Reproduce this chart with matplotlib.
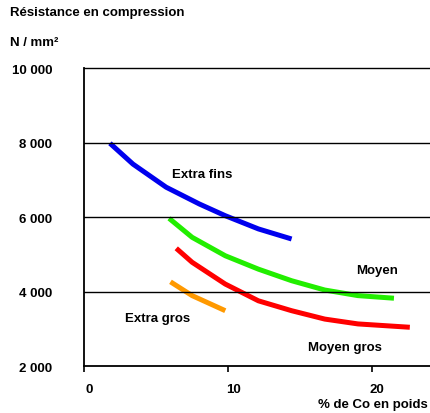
import matplotlib
matplotlib.use("Agg")
import matplotlib.pyplot as plt
import matplotlib.transforms as mtransforms
from matplotlib.ticker import FuncFormatter

plt.rcParams['font.family'] = ['Liberation Sans', 'DejaVu Sans']
plt.rcParams['font.weight'] = 'bold'

# data
fins_x = [1.8, 3.4, 5.7, 8.0, 9.8, 12.1, 14.4]
fins_y = [7980, 7420, 6800, 6350, 6035, 5680, 5410]
moyen_x = [5.9, 7.5, 9.8, 12.1, 14.4, 16.7, 19.0, 21.5]
moyen_y = [5965, 5455, 4960, 4600, 4290, 4040, 3890, 3820]
mgros_x = [6.4, 7.5, 9.8, 12.1, 14.4, 16.7, 19.0, 22.6]
mgros_y = [5160, 4785, 4200, 3750, 3485, 3260, 3130, 3040]
xgros_x = [6.0, 7.5, 9.8]
xgros_y = [4260, 3890, 3485]

series = [
    (fins_x, fins_y, "#0000EE", "Extra fins", 8.2, 7150),
    (moyen_x, moyen_y, "#22EE00", "Moyen", 20.3, 4590),
    (mgros_x, mgros_y, "#FF0000", "Moyen gros", 18.1, 2500),
    (xgros_x, xgros_y, "#FF9900", "Extra gros", 5.1, 3280),
]

fig = plt.figure(figsize=(4.3, 4.14), dpi=100)
ax = fig.add_axes([0.1953, 0.1135, 0.8047, 0.7198])

for xs, ys, col, name, lx, ly in series:
    ax.plot(xs, ys, color=col, lw=3.6, solid_capstyle='butt', solid_joinstyle='round')
    ax.text(lx, ly, name, ha='center', va='center', fontsize=9.5, fontweight='bold')

ax.set_xlim(0, 24)
ax.set_ylim(2000, 10000)
ax.set_yticks([2000, 4000, 6000, 8000, 10000])
ax.set_xticks([0, 10, 20])
ax.yaxis.set_major_formatter(FuncFormatter(lambda v, p: f"{int(v):,}".replace(",", " ")))

for yv in [4000, 6000, 8000]:
    ax.axhline(yv, color='black', lw=1.0)

ax.spines['right'].set_visible(False)
ax.spines['top'].set_linewidth(1.0)
ax.spines['left'].set_linewidth(1.3)
ax.spines['bottom'].set_linewidth(1.3)

ax.tick_params(axis='y', length=0, pad=23, labelsize=9.5)
ax.tick_params(axis='x', length=4.5, width=1.2, pad=8, labelsize=9.5, direction='out')
offset = mtransforms.ScaledTranslation(5 / 100, 0, fig.dpi_scale_trans)
for lab in ax.get_xticklabels():
    lab.set_transform(lab.get_transform() + offset)
for lab in ax.get_xticklabels() + ax.get_yticklabels():
    lab.set_fontweight('bold')

fig.text(10 / 430, 1 - 13 / 414, "Résistance en compression", ha='left', va='center',
         fontsize=9.5, fontweight='bold')
fig.text(10 / 430, 1 - 43 / 414, "N / mm²", ha='left', va='center',
         fontsize=9.5, fontweight='bold')
fig.text(428 / 430, 1 - 405 / 414, "% de Co en poids", ha='right', va='center',
         fontsize=9.5, fontweight='bold')

fig.savefig("out.png", dpi=100)
